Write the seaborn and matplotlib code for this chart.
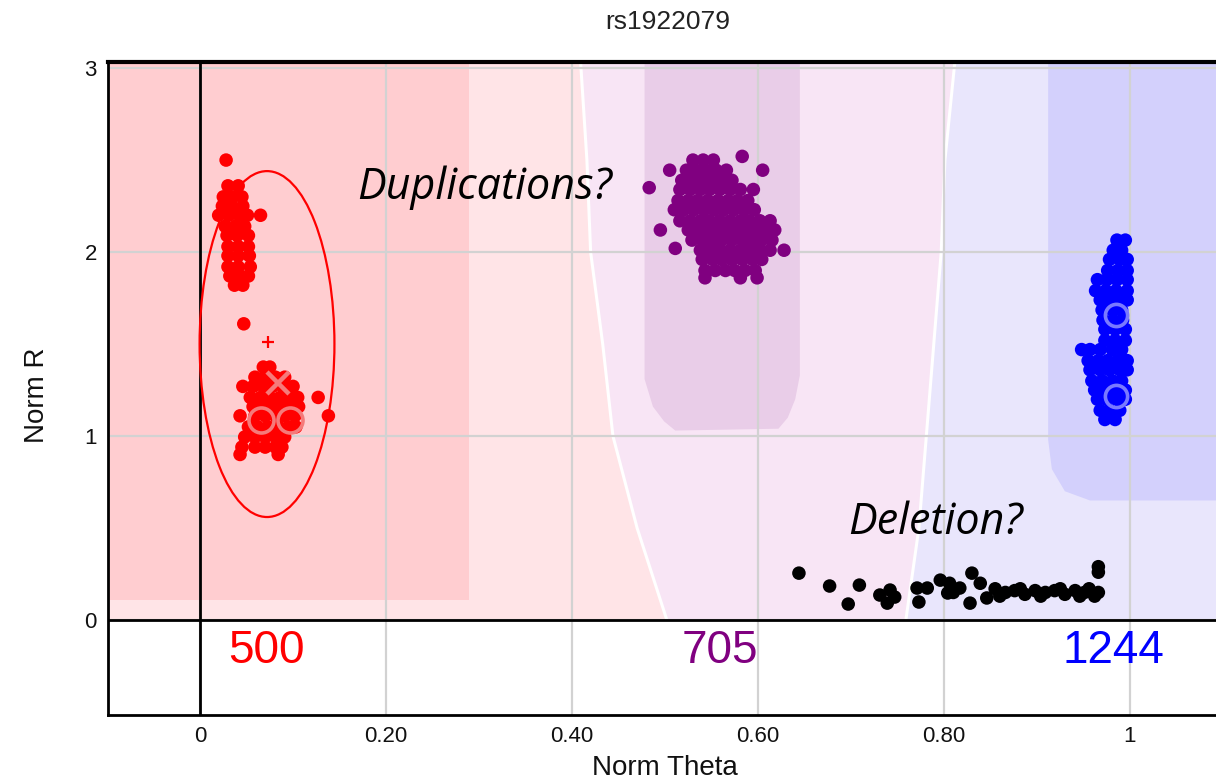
import numpy as np
import pandas as pd
import matplotlib
matplotlib.use("Agg")
import matplotlib.pyplot as plt
from matplotlib.patches import Ellipse, Polygon
import seaborn as sns

# ---------------------------------------------------------------- data
snp_name = "rs1922079"

genotypes = ["AA", "AB", "BB", "NC"]
call_counts = {"AA": 500, "AB": 705, "BB": 1244}
count_theta = {"AA": 0.071, "AB": 0.559, "BB": 0.982}

# samples per genotype, as rows of (Norm R, [Norm Theta ...])
aa_rows = [
    (2.50, [0.028]),
    (2.36, [0.030, 0.041]),
    (2.30, [0.025, 0.035, 0.045]),
    (2.25, [0.024, 0.034, 0.046]),
    (2.20, [0.020, 0.031, 0.042, 0.051, 0.065]),
    (2.14, [0.027, 0.038, 0.048]),
    (2.09, [0.029, 0.040, 0.052]),
    (2.03, [0.030, 0.041, 0.052]),
    (1.98, [0.030, 0.041, 0.053]),
    (1.92, [0.030, 0.041, 0.054]),
    (1.87, [0.032, 0.043, 0.052]),
    (1.82, [0.037, 0.046]),
    (1.61, [0.047]),
    (1.375, [0.068, 0.075]),
    (1.32, [0.059, 0.070, 0.081, 0.091]),
    (1.27, [0.046, 0.057, 0.068, 0.078, 0.089, 0.100]),
    (1.21, [0.054, 0.065, 0.075, 0.086, 0.097, 0.105, 0.127]),
    (1.16, [0.057, 0.068, 0.078, 0.089, 0.100, 0.106]),
    (1.11, [0.043, 0.059, 0.070, 0.081, 0.091, 0.102, 0.138]),
    (1.05, [0.052, 0.062, 0.073, 0.084, 0.095, 0.103]),
    (0.995, [0.048, 0.059, 0.070, 0.081, 0.091]),
    (0.94, [0.045, 0.059, 0.070, 0.081, 0.088]),
    (0.90, [0.043, 0.084]),
]

ab_rows = [
    (2.52, [0.583]),
    (2.50, [0.530, 0.541, 0.552]),
    (2.445, [0.505, 0.523, 0.533, 0.544, 0.555, 0.566, 0.605]),
    (2.39, [0.518, 0.529, 0.540, 0.551, 0.561, 0.572]),
    (2.35, [0.483]),
    (2.34, [0.516, 0.527, 0.538, 0.548, 0.559, 0.570, 0.581, 0.595]),
    (2.28, [0.514, 0.525, 0.535, 0.546, 0.557, 0.568, 0.578, 0.589]),
    (2.23, [0.510, 0.520, 0.531, 0.542, 0.553, 0.563, 0.574, 0.585, 0.596]),
    (2.17, [0.516, 0.527, 0.538, 0.548, 0.559, 0.570, 0.581, 0.591, 0.602, 0.613]),
    (2.12, [0.495, 0.525, 0.535, 0.546, 0.557, 0.568, 0.578, 0.589, 0.600, 0.611, 0.618]),
    (2.065, [0.529, 0.540, 0.551, 0.561, 0.572, 0.583, 0.594, 0.604, 0.615]),
    (2.02, [0.511]),
    (2.01, [0.538, 0.548, 0.559, 0.570, 0.581, 0.591, 0.602, 0.613, 0.628]),
    (1.96, [0.540, 0.551, 0.561, 0.572, 0.583, 0.594, 0.604]),
    (1.90, [0.543, 0.554, 0.565, 0.575, 0.586, 0.597]),
    (1.86, [0.543, 0.581, 0.599]),
]

bb_rows = [
    (2.065, [0.986, 0.995]),
    (2.01, [0.982, 0.991]),
    (1.96, [0.978, 0.989, 0.997]),
    (1.90, [0.976, 0.987, 0.997]),
    (1.85, [0.965, 0.975, 0.986, 0.997]),
    (1.79, [0.963, 0.974, 0.985, 0.997]),
    (1.74, [0.968, 0.978, 0.989, 0.997]),
    (1.685, [0.970, 0.981, 0.991]),
    (1.63, [0.971, 0.982, 0.992]),
    (1.58, [0.973, 0.984, 0.995]),
    (1.52, [0.973, 0.984, 0.995]),
    (1.47, [0.948, 0.957, 0.968, 0.981, 0.991]),
    (1.41, [0.955, 0.966, 0.976, 0.987, 0.997]),
    (1.36, [0.957, 0.968, 0.978, 0.989, 0.997]),
    (1.30, [0.959, 0.970, 0.981, 0.991]),
    (1.25, [0.962, 0.973, 0.984, 0.995]),
    (1.20, [0.965, 0.975, 0.986, 0.995]),
    (1.14, [0.968, 0.978, 0.989]),
    (1.09, [0.973, 0.984]),
]

nc_theta = [0.644, 0.677, 0.697, 0.709, 0.731, 0.742, 0.739, 0.747, 0.771, 0.782,
            0.773, 0.796, 0.806, 0.804, 0.810, 0.830, 0.828, 0.817, 0.839, 0.846,
            0.855, 0.860, 0.866, 0.876, 0.882, 0.887, 0.898, 0.904, 0.909, 0.919,
            0.925, 0.930, 0.941, 0.946, 0.951, 0.956, 0.962, 0.966, 0.966, 0.966]
nc_r = [0.255, 0.185, 0.087, 0.190, 0.136, 0.163, 0.092, 0.125, 0.174, 0.174,
        0.098, 0.217, 0.200, 0.147, 0.150, 0.255, 0.092, 0.174, 0.200, 0.120,
        0.170, 0.130, 0.150, 0.160, 0.170, 0.140, 0.160, 0.130, 0.150, 0.160,
        0.170, 0.140, 0.160, 0.130, 0.150, 0.170, 0.130, 0.150, 0.260, 0.290]

# cluster centre symbols
aa_ring_theta = [0.065, 0.097]
aa_ring_r = [1.09, 1.09]
aa_cross = (0.084, 1.29)
aa_plus = (0.073, 1.51)
bb_ring_theta = [0.985, 0.985]
bb_ring_r = [1.66, 1.22]

# AA cluster ellipse: centre, full width (theta), full height (R)
aa_ellipse = (0.072, 1.50, 0.145, 1.88)

# call-region boundaries, as Norm Theta at each Norm R level
region_r = [0.0, 0.5, 1.0, 1.5, 2.0, 2.5, 3.05]
aa_ab_border = [0.502, 0.470, 0.444, 0.433, 0.420, 0.416, 0.409]
ab_bb_border = [0.759, 0.773, 0.781, 0.789, 0.797, 0.801, 0.812]

aa_core = [(-0.12, 0.11), (0.289, 0.11), (0.289, 3.05), (-0.12, 3.05)]
ab_core = [(0.478, 3.05), (0.478, 1.31), (0.487, 1.16), (0.499, 1.08), (0.511, 1.03),
           (0.622, 1.04), (0.632, 1.10), (0.640, 1.20), (0.645, 1.33), (0.645, 3.05)]
bb_core = [(0.912, 3.05), (0.912, 0.98), (0.916, 0.82), (0.930, 0.70), (0.957, 0.65),
           (1.20, 0.65), (1.20, 3.05)]

x_ticks = [0, 0.2, 0.4, 0.6, 0.8, 1.0]
x_tick_labels = ["0", "0.20", "0.40", "0.60", "0.80", "1"]
y_ticks = [0, 1, 2, 3]
y_tick_labels = ["0", "1", "2", "3"]

# ---------------------------------------------------------------- frame
def flatten(rows, label):
    th, rr = [], []
    for r, thetas in rows:
        th += thetas
        rr += [r] * len(thetas)
    return pd.DataFrame({"theta": th, "r": rr, "call": label})

samples = pd.concat([
    flatten(aa_rows, "AA"),
    flatten(ab_rows, "AB"),
    flatten(bb_rows, "BB"),
    pd.DataFrame({"theta": nc_theta, "r": nc_r, "call": "NC"}),
], ignore_index=True)

palette = {"AA": "#ff0000", "AB": "#800080", "BB": "#0000ff", "NC": "#000000"}

# ---------------------------------------------------------------- style
sns.set_theme(style="whitegrid")
plt.rcParams["font.family"] = ["Liberation Sans", "DejaVu Sans"]
plt.rcParams.update({
    "axes.edgecolor": "black",
    "axes.linewidth": 2.0,
    "grid.color": "#d2d2d2",
    "grid.linewidth": 1.6,
    "axes.axisbelow": True,
})

fig = plt.figure(figsize=(12.16, 7.82), dpi=100)
W, H = 1216, 782
ax = fig.add_axes([108 / W, 1 - 715 / H, (W - 108) / W, (715 - 62) / H])
ax.set_facecolor("white")

x_min, x_max = -0.099, 1.0925
y_min, y_max = -0.516, 3.033

# call regions
ax.fill_betweenx(region_r, x_min - 0.05, aa_ab_border, color="#ffe4e7", lw=0, zorder=0.1)
ax.fill_betweenx(region_r, aa_ab_border, ab_bb_border, color="#f8e5f5", lw=0, zorder=0.1)
ax.fill_betweenx(region_r, ab_bb_border, x_max + 0.05, color="#e9e6fc", lw=0, zorder=0.1)
ax.add_patch(Polygon(aa_core, closed=True, color="#ffcdd0", lw=0, zorder=0.15))
ax.add_patch(Polygon(ab_core, closed=True, color="#e9cde8", lw=0, zorder=0.15))
ax.add_patch(Polygon(bb_core, closed=True, color="#d3d0fc", lw=0, zorder=0.15))
ax.plot(aa_ab_border, region_r, color="white", lw=2.2, zorder=0.2)
ax.plot(ab_bb_border, region_r, color="white", lw=2.2, zorder=0.2)

# reference lines at the origin
ax.axhline(0, color="black", lw=2.0, zorder=1.5)
ax.axvline(0, color="black", lw=2.0, zorder=1.5)

# samples
sns.scatterplot(data=samples, x="theta", y="r", hue="call", palette=palette,
                hue_order=genotypes, s=95, linewidth=0, marker="o",
                legend=False, ax=ax, zorder=3)

# AA ellipse and centre symbols
cx, cy, ew, eh = aa_ellipse
ax.add_patch(Ellipse((cx, cy), ew, eh, fill=False, edgecolor="#ff0000", lw=1.6, zorder=3.5))
ax.plot(aa_ring_theta, aa_ring_r, ls="none", marker="o", ms=18, mfc="none",
        mec="#f57a7a", mew=2.6, zorder=4)
ax.plot([aa_cross[0]], [aa_cross[1]], ls="none", marker="x", ms=16,
        mec="#f57a7a", mew=3.2, zorder=4)
ax.plot([aa_plus[0]], [aa_plus[1]], ls="none", marker="+", ms=8,
        mec="#ff0000", mew=1.6, zorder=4)
ax.plot(bb_ring_theta, bb_ring_r, ls="none", marker="o", ms=16, mfc="none",
        mec="#7a7aff", mew=2.6, zorder=4)

# genotype counts below the axis line
for g in ["AA", "AB", "BB"]:
    ax.text(count_theta[g], -0.168, str(call_counts[g]), color=palette[g],
            fontsize=33, ha="center", va="center", zorder=5)

# annotations
note_font = ["Open Sans", "DejaVu Sans"]
ax.text(0.169, 2.29, "Duplications?", fontsize=31, style="italic",
        family=note_font, ha="left", va="baseline", color="black", zorder=5)
ax.text(0.697, 0.47, "Deletion?", fontsize=31, style="italic",
        family=note_font, ha="left", va="baseline", color="black", zorder=5)

# axes
ax.set_xlim(x_min, x_max)
ax.set_ylim(y_min, y_max)
ax.set_xticks(x_ticks)
ax.set_xticklabels(x_tick_labels)
ax.set_yticks(y_ticks)
ax.set_yticklabels(y_tick_labels)
ax.tick_params(axis="both", direction="in", length=6, width=2, color="black",
               labelsize=16, labelcolor="#111111", pad=8)
ax.grid(True, which="major")
ax.spines["right"].set_visible(False)
ax.spines["top"].set_linewidth(3)

ax.set_xlabel("Norm Theta", fontsize=20, color="#111111")
ax.set_ylabel("Norm R", fontsize=20, color="#111111")
ax.xaxis.set_label_coords((665 - 108) / 1108, (715 - 755) / 653)
ax.yaxis.set_label_coords((50 - 108) / 1108, (715 - 395) / 653)

fig.text(668 / W, 1 - 22 / H, snp_name, fontsize=19, ha="center", va="center",
         color="#222222")

fig.savefig("out.png", dpi=100)
